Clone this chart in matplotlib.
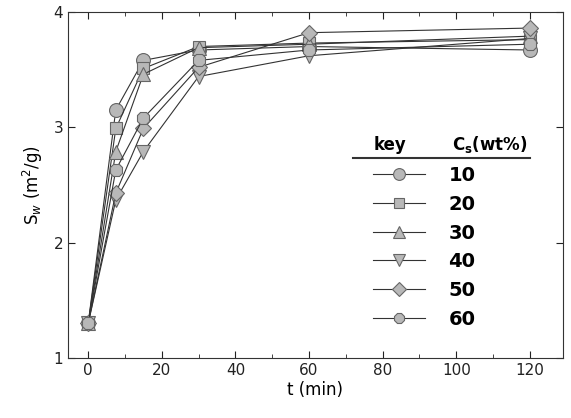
import numpy as np
from matplotlib import pyplot as plt
from matplotlib.ticker import MultipleLocator

# sampling times (min)
t = [0, 7.5, 15, 30, 60, 120]

# specific surface area S_w (m2/g) per solid content C_s (wt%)
cs_labels = ["10", "20", "30", "40", "50", "60"]
sw_10 = [1.30, 3.15, 3.58, 3.67, 3.70, 3.67]
sw_20 = [1.30, 2.99, 3.51, 3.70, 3.73, 3.76]
sw_30 = [1.30, 2.79, 3.46, 3.69, 3.72, 3.79]
sw_40 = [1.30, 2.37, 2.79, 3.44, 3.62, 3.77]
sw_50 = [1.30, 2.43, 2.99, 3.52, 3.82, 3.86]
sw_60 = [1.30, 2.63, 3.08, 3.58, 3.67, 3.72]
series = [sw_10, sw_20, sw_30, sw_40, sw_50, sw_60]
markers = ["o", "s", "^", "v", "D", "8"]
sizes = [10, 9, 10, 10, 8, 10]

fig = plt.figure(figsize=(5.71, 4.18), dpi=100)
ax = fig.add_axes([0.119, 0.1435, 0.867, 0.828])

handles = []
for sw, m, ms in zip(series, markers, sizes):
    h, = ax.plot(t, sw, color="#333333", lw=0.8, marker=m, ms=ms,
                 mfc="#b8b8b8", mec="#666666", mew=0.8)
    handles.append(h)

ax.set_xlim(-5.5, 129)
ax.set_ylim(1, 4)
ax.xaxis.set_major_locator(MultipleLocator(20))
ax.xaxis.set_minor_locator(MultipleLocator(10))
ax.yaxis.set_major_locator(MultipleLocator(1))
ax.tick_params(which="both", direction="in", top=True, right=True, labelsize=11, colors="#222222")
ax.tick_params(which="major", length=5)
ax.tick_params(which="minor", length=3)
for s in ax.spines.values():
    s.set_color("#333333")

ax.set_xlabel("t (min)", fontsize=12, labelpad=2)
ax.set_ylabel("S$_w$ (m$^2$/g)", fontsize=12, labelpad=6)

# table-like key
ax.text(0.65, 0.616, "key", transform=ax.transAxes, ha="center", va="center",
        fontsize=12, fontweight="bold")
ax.text(0.853, 0.616, "C$_\\mathbf{s}$(wt%)", transform=ax.transAxes, ha="center", va="center",
        fontsize=12, fontweight="bold")
ax.plot([0.576, 0.933], [0.578, 0.578], transform=ax.transAxes, color="#333333", lw=1.5)

leg = ax.legend(handles, cs_labels, loc="upper left", bbox_to_anchor=(0.58, 0.605),
                frameon=False, handlelength=2.7, labelspacing=0.5, handletextpad=1.2,
                markerscale=0.85, prop={"size": 14, "weight": "bold"})

fig.savefig("out.png", dpi=100)
